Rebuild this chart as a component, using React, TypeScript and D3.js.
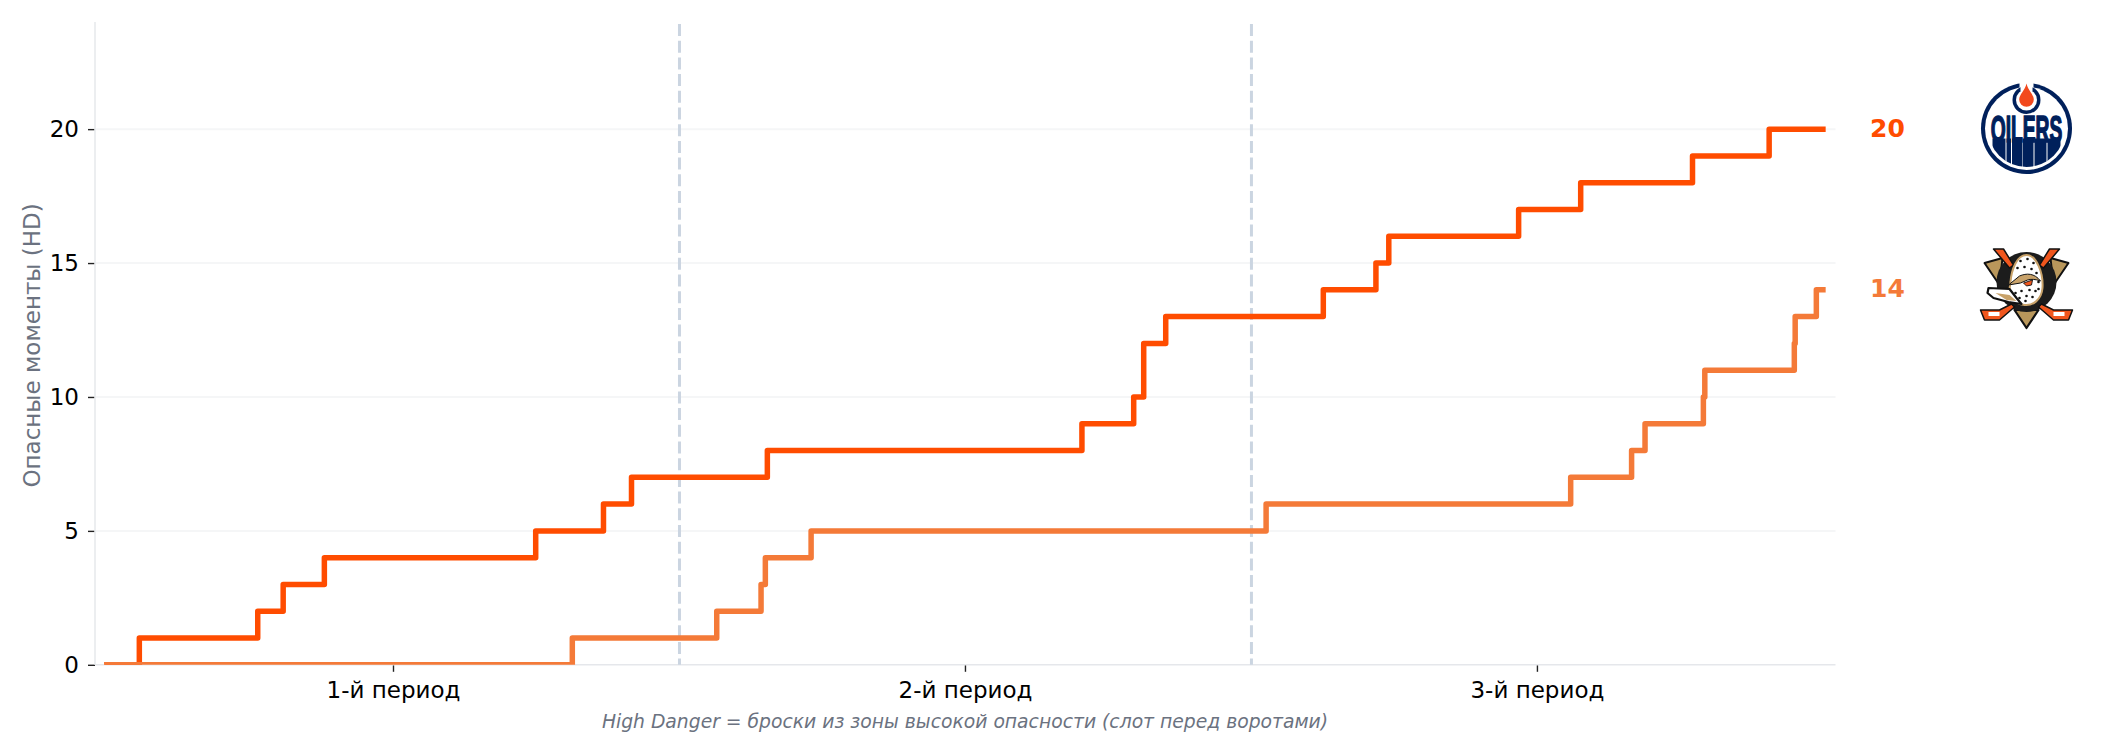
import { useEffect, useRef } from "react"
import * as d3 from "d3"

const periodLabels = ["1-й период", "2-й период", "3-й период"]
const periodTicks = [10, 30, 50]
const periodBreaks = [20, 40]
const yTicks = [0, 5, 10, 15, 20]
const gameEnd = 60

// minutes of each high danger chance
const oilersTimes = [1.13, 5.27, 6.16, 7.6, 14.99, 17.36, 18.34, 23.09, 34.09, 35.9, 36.25, 36.25, 37.02, 42.53, 44.37, 44.82, 49.36, 51.53, 55.44, 58.12]
const ducksTimes = [16.27, 21.32, 22.87, 23.02, 24.62, 40.53, 51.18, 53.31, 53.78, 55.82, 55.87, 59.0, 59.03, 59.77]

const oilersColor = "#FF4C00"
const ducksColor = "#F47A38"
const navy = "#00205B"

const oilersBars = [[-34, 13], [-20, 4.5], [-14.5, 10], [-4, 11], [8, 12], [21, 13]]
const duckDots = [[-6, -27], [1, -29], [7, -25], [-9, -20], [-2, -21], [5, -19], [10, -15], [12, -6], [-11, 5], [-5, 3], [3, 2], [9, 3], [-7, 10], [0, 8], [6, 9], [-1, 13], [12, 1]]

type Step = { t: number; n: number }

function toSteps(times: number[]): Step[] {
  const steps: Step[] = [{ t: 0, n: 0 }]
  times.forEach((t, i) => steps.push({ t, n: i + 1 }))
  steps.push({ t: gameEnd, n: times.length })
  return steps
}

function OilersLogo() {
  return (
    <g transform="translate(2026.5,128.5)">
      <defs>
        <clipPath id="oilers-inner">
          <circle r={38.5} />
        </clipPath>
      </defs>
      <circle r={45.5} fill={navy} />
      <circle r={41.5} fill="white" />
      <g clipPath="url(#oilers-inner)">
        {oilersBars.map(([x, w]) => (
          <rect key={x} x={x} y={10} width={w} height={34} fill={navy} />
        ))}
      </g>
      <text transform="translate(0,13) scale(0.52,1)" textAnchor="middle" fontFamily="'Liberation Sans'" fontWeight="bold" fontSize={37} fill={navy} stroke={navy} strokeWidth={1.6}>
        OILERS
      </text>
      <rect x={-7} y={-47} width={14} height={8} fill="white" />
      <circle cy={-28.5} r={14} fill={navy} />
      <circle cy={-28.5} r={10.5} fill="white" />
      <rect x={-6} y={-43} width={12} height={6} fill="white" />
      <path d="M0,-45 C1.5,-38 7.3,-34 7.3,-29 A7.3,7.3 0 0 1 -7.3,-29 C-7.3,-34 -1.5,-38 0,-45 Z" fill="#F2491D" />
    </g>
  )
}

function DucksLogo() {
  return (
    <g transform="translate(2026.5,288)" strokeLinejoin="round">
      {/* side triangles */}
      <path d="M-42,-25 L-24,-30 L-27,-3 Z" fill="#B9975B" stroke="#111" strokeWidth={2} />
      <path d="M42,-25 L24,-30 L27,-3 Z" fill="#B9975B" stroke="#111" strokeWidth={2} />
      {/* bottom triangle */}
      <path d="M-12,22 L12,22 L0,40 Z" fill="#B9975B" stroke="#111" strokeWidth={2.2} />
      <circle cy={-6} r={30} fill="#1c1c1c" />
      {/* sticks */}
      <path d="M-33,-39 L-23,-39 L-13,-23 L-17,-20 Z" fill="#F0561D" stroke="#111" strokeWidth={1.5} />
      <path d="M33,-39 L23,-39 L13,-23 L17,-20 Z" fill="#F0561D" stroke="#111" strokeWidth={1.5} />
      <path d="M-46,22 L-27,22 L-15,16 L-12,19 L-27,32 L-42,32 Z" fill="#F0561D" stroke="#111" strokeWidth={1.5} />
      <path d="M46,22 L27,22 L15,16 L12,19 L27,32 L42,32 Z" fill="#F0561D" stroke="#111" strokeWidth={1.5} />
      <rect x={-38} y={24} width={11} height={4} fill="white" />
      <rect x={27} y={24} width={11} height={4} fill="white" />
      {/* head */}
      <path d="M0,-33 C10,-33 17,-15 16,0 C15,12 6,18 -2,17 C-8,16 -14,13 -18,9 L-16,-6 C-15,-18 -10,-33 0,-33 Z" fill="white" stroke="#C8A26A" strokeWidth={2} />
      <path d="M-18,-3 L-7,-12 C0,-15 8,-15 14,-7 C9,-9 4,-9 1,-8 L-6,-5 Z" fill="#C8A26A" stroke="#111" strokeWidth={1} />
      <path d="M-3,-5 L6,-8 L5,-3 L0,-2 Z" fill="#F0561D" stroke="#111" strokeWidth={0.9} />
      {duckDots.map(([x, y]) => (
        <circle key={`${x}-${y}`} cx={x} cy={y} r={1.3} fill="#111" />
      ))}
      {/* bill */}
      <path d="M-38,0 L-17,1 L-10,10 L-5,16 L-18,14 L-33,10 L-39,5 Z" fill="white" stroke="#111" strokeWidth={2.2} />
      <path d="M-31,5 L-17,7 L-10,13 L-20,12 Z" fill="#C8A26A" />
    </g>
  )
}

export default function App() {
  const svgRef = useRef<SVGSVGElement>(null)

  const margin = { left: 95, top: 22, right: 1835.5, bottom: 664.8 }
  const x = d3.scaleLinear().domain([-0.42, 60.44]).range([margin.left, margin.right])
  const y = d3.scaleLinear().domain([0, 24]).range([margin.bottom, margin.top])

  useEffect(() => {
    if (!svgRef.current) return
    const svg = d3.select(svgRef.current).select<SVGGElement>("g.chart")
    svg.selectAll("*").remove()

    // Grid
    svg.append("g")
      .selectAll("line")
      .data(yTicks.filter((d) => d > 0))
      .enter()
      .append("line")
      .attr("x1", margin.left)
      .attr("x2", margin.right)
      .attr("y1", (d) => y(d))
      .attr("y2", (d) => y(d))
      .attr("stroke", "#F5F6F7")
      .attr("stroke-width", 2)

    // Axes
    const xAxis = d3
      .axisBottom(x)
      .tickValues(periodTicks)
      .tickSize(7)
      .tickPadding(10)
      .tickFormat((_, i) => periodLabels[i])
    const yAxis = d3.axisLeft(y).tickValues(yTicks).tickSize(7).tickPadding(9)

    const gx = svg.append("g").attr("transform", `translate(0,${margin.bottom})`).call(xAxis)
    const gy = svg.append("g").attr("transform", `translate(${margin.left},0)`).call(yAxis)
    for (const g of [gx, gy]) {
      g.attr("font-family", "'DejaVu Sans'").attr("font-size", 23)
      g.selectAll("text").attr("fill", "#000")
      g.selectAll(".tick line").attr("stroke", "#222").attr("stroke-width", 1.4)
      g.select(".domain").remove()
    }

    svg.append("line")
      .attr("x1", margin.left).attr("x2", margin.left)
      .attr("y1", margin.top).attr("y2", margin.bottom)
      .attr("stroke", "#E8EAED").attr("stroke-width", 1.6)
    svg.append("line")
      .attr("x1", margin.left).attr("x2", margin.right)
      .attr("y1", margin.bottom).attr("y2", margin.bottom)
      .attr("stroke", "#E5E7EB").attr("stroke-width", 1.6)

    // Period separators
    svg.append("g")
      .selectAll("line")
      .data(periodBreaks)
      .enter()
      .append("line")
      .attr("x1", (d) => x(d) + 0.5)
      .attr("x2", (d) => x(d) + 0.5)
      .attr("y1", margin.top + 2)
      .attr("y2", margin.bottom)
      .attr("stroke", "#CBD5E1")
      .attr("stroke-width", 3)
      .attr("stroke-dasharray", "12,4.7")

    // Step lines
    const line = d3
      .line<Step>()
      .x((d) => x(d.t))
      .y((d) => y(d.n))
      .curve(d3.curveStepAfter)

    const series: [number[], string][] = [
      [oilersTimes, oilersColor],
      [ducksTimes, ducksColor],
    ]
    for (const [times, color] of series) {
      svg.append("path")
        .datum(toSteps(times))
        .attr("clip-path", "url(#plot-area)")
        .attr("fill", "none")
        .attr("stroke", color)
        .attr("stroke-width", 5.5)
        .attr("stroke-linecap", "square")
        .attr("stroke-linejoin", "round")
        .attr("d", line)

      svg.append("text")
        .attr("x", 1887.5)
        .attr("y", y(times.length))
        .attr("dy", "0.3em")
        .attr("text-anchor", "middle")
        .attr("font-family", "'DejaVu Sans'")
        .attr("font-size", 25)
        .attr("font-weight", "bold")
        .attr("fill", color)
        .text(times.length)
    }

    // Labels
    svg.append("text")
      .attr("transform", `translate(32,${(margin.top + margin.bottom) / 2 + 2}) rotate(-90)`)
      .attr("dy", "0.36em")
      .attr("text-anchor", "middle")
      .attr("font-family", "'DejaVu Sans'")
      .attr("font-size", 23)
      .attr("fill", "#6B7280")
      .text("Опасные моменты (HD)")

    svg.append("text")
      .attr("x", 965)
      .attr("y", 728)
      .attr("text-anchor", "middle")
      .attr("font-family", "'DejaVu Sans'")
      .attr("font-style", "italic")
      .attr("font-size", 18.75)
      .attr("fill", "#6B7280")
      .text("High Danger = броски из зоны высокой опасности (слот перед воротами)")
  }, [])

  return (
    <svg
      ref={svgRef}
      width={2108}
      height={756}
      style={{ position: "absolute", left: 0, top: 0, background: "white" }}
    >
      <defs>
        <clipPath id="plot-area">
          <rect x={margin.left} y={margin.top} width={margin.right - margin.left} height={margin.bottom - margin.top} />
        </clipPath>
      </defs>
      <g className="chart" />
      <OilersLogo />
      <DucksLogo />
    </svg>
  )
}
